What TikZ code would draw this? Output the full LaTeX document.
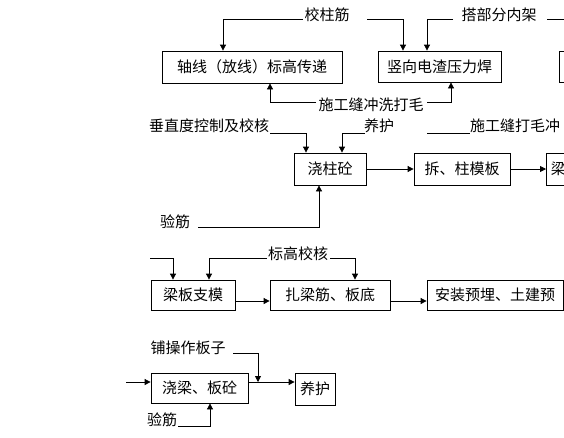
\documentclass[tikz,border=0pt]{standalone}
\usepackage{fontspec}
\newfontfamily\cjk{Noto Sans CJK SC}
\usetikzlibrary{arrows.meta}
\begin{document}
\begin{tikzpicture}[x=1pt,y=-1pt,
  bx/.style={draw,line width=0.8pt,inner sep=0pt,font=\cjk\fontsize{15}{17}\selectfont},
  lbl/.style={inner sep=0pt,font=\cjk\fontsize{15}{17}\selectfont},
  ln/.style={line width=0.8pt},
  arr/.style={line width=0.8pt,-{Triangle[length=6pt,width=6pt]}}]
\useasboundingbox (0,0) rectangle (564,437);
\clip (0,0) rectangle (564,437);
\fill[white] (0,0) rectangle (564,437);
% boxes
\node[bx,minimum width=180pt,minimum height=32pt] (b1) at (252,67) {轴线（放线）标高传递};
\node[bx,minimum width=123pt,minimum height=31pt] (b2) at (439.5,66.5) {竖向电渣压力焊};
\node[bx,minimum width=80pt,minimum height=31pt,anchor=west] (bx3) at (559,66.5) {};
\node[bx,minimum width=72pt,minimum height=32pt] (b3) at (330,169) {浇柱砼};
\node[bx,minimum width=96pt,minimum height=32pt] (b4) at (462,169) {拆、柱模板};
\node[bx,minimum width=80pt,minimum height=32pt,anchor=west,text width=71pt,align=left] (b5) at (546,169) {梁};
\node[bx,minimum width=84pt,minimum height=30pt] (b6) at (193,295) {梁板支模};
\node[bx,minimum width=120pt,minimum height=30pt] (b7) at (330,295) {扎梁筋、板底};
\node[bx,minimum width=136pt,minimum height=30pt] (b8) at (495,295) {安装预埋、土建预};
\node[bx,minimum width=97pt,minimum height=30pt] (b9) at (199.5,388) {浇梁、板砼};
\node[bx,minimum width=40pt,minimum height=32pt] (b10) at (315,389) {养护};
% labels
\node[lbl] (l1) at (327,15) {校柱筋};
\node[lbl] (l2) at (499,15) {搭部分内架};
\node[lbl] (l3) at (371,105) {施工缝冲洗打毛};
\node[lbl] (l4) at (209,126) {垂直度控制及校核};
\node[lbl] (l5) at (379,126) {养护};
\node[lbl,anchor=west] (l6) at (470,126) {施工缝打毛冲};
\node[lbl] (l7) at (175,222) {验筋};
\node[lbl] (l8) at (298,254) {标高校核};
\node[lbl] (l9) at (188,348) {铺操作板子};
\node[lbl] (l10) at (162,420) {验筋};
% connector ends
\coordinate (c1) at (303,19);
\coordinate (c2) at (367,19);
\coordinate (c3) at (453,19);
\coordinate (c4a) at (547,19);
\coordinate (c4b) at (566,19);
\coordinate (c5) at (316,102);
\coordinate (c6) at (427,102);
\coordinate (c7) at (270,133);
\coordinate (c8) at (365,133);
\coordinate (c9a) at (427,133);
\coordinate (c9b) at (470,133);
\coordinate (c10) at (198,227);
\coordinate (c11) at (150,258);
\coordinate (c12) at (267,258);
\coordinate (c13) at (330,258);
\coordinate (c14) at (233,353);
\coordinate (c15) at (258,382);
\coordinate (c16) at (178,426);
\coordinate (c17) at (126,382);
% connectors
\draw[arr] (c1) -| ([xshift=-29pt]b1.north);
\draw[arr] (c2) -| ([xshift=-36.5pt]b2.north);
\draw[arr] (c3) -| ([xshift=-12.5pt]b2.north);
\draw[ln] (c4a) -- (c4b);
\draw[arr] (c5) -| ([xshift=18pt]b1.south);
\draw[arr] (c6) -| ([xshift=11.5pt]b2.south);
\draw[arr] (c7) -| ([xshift=-24pt]b3.north);
\draw[arr] (c8) -| ([xshift=12pt]b3.north);
\draw[ln] (c9a) -- (c9b);
\draw[arr] (c10) -| ([xshift=-11pt]b3.south);
\draw[arr] (b3.east) -- (b4.west);
\draw[arr] (b4.east) -- (b5.west);
\draw[arr] (c11) -| ([xshift=-20pt]b6.north);
\draw[arr] (c12) -| ([xshift=16pt]b6.north);
\draw[arr] (c13) -| ([xshift=25pt]b7.north);
\draw[arr] ([yshift=-6pt]b6.east) -- ([yshift=-6pt]b6.east -| b7.west);
\draw[arr] ([yshift=-6pt]b7.east) -- ([yshift=-6pt]b7.east -| b8.west);
\draw[arr] (c17) -- ([yshift=6pt]b9.west);
\draw[arr] ([yshift=6pt]b9.east) -- ([yshift=6pt]b9.east -| b10.west);
\draw[arr] (c14) -| (c15);
\draw[arr] (c16) -| ([xshift=10.5pt]b9.south);
\end{tikzpicture}
\end{document}
